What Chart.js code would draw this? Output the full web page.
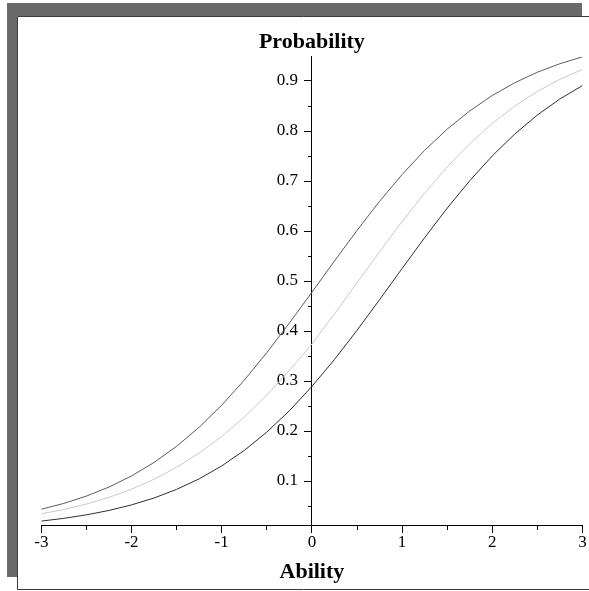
<!DOCTYPE html>
<html>
<head>
<meta charset="utf-8">
<script src="https://cdn.jsdelivr.net/npm/chart.js@4/dist/chart.umd.min.js"></script>
<style>
  html, body { margin: 0; padding: 0; background: #fff; }
  canvas { display: block; }
</style>
</head>
<body>
<canvas id="chart" width="589" height="591"></canvas>
<script>
// ability values (x), step 0.25
const abilities = [-3, -2.75, -2.5, -2.25, -2, -1.75, -1.5, -1.25, -1, -0.75, -0.5, -0.25,
    0, 0.25, 0.5, 0.75, 1, 1.25, 1.5, 1.75, 2, 2.25, 2.5, 2.75, 3];

// probability curves (top dark, middle light, bottom dark)
const upperCurve = [0.0435, 0.0552, 0.0698, 0.0879, 0.1101, 0.1371, 0.1694, 0.2075, 0.2516, 0.3016, 0.3567, 0.4158,
    0.4775, 0.5399, 0.6011, 0.6593, 0.7130, 0.7613, 0.8038, 0.8402, 0.8710, 0.8966, 0.9176, 0.9346, 0.9483];
const middleCurve = [0.0344, 0.0431, 0.0539, 0.0672, 0.0836, 0.1034, 0.1273, 0.1558, 0.1892, 0.2279, 0.2719, 0.3208,
    0.3740, 0.4342, 0.4963, 0.5585, 0.6189, 0.6759, 0.7281, 0.7747, 0.8153, 0.8500, 0.8792, 0.9034, 0.9231];
const lowerCurve = [0.0198, 0.0253, 0.0323, 0.0411, 0.0522, 0.0660, 0.0832, 0.1043, 0.1301, 0.1611, 0.1978, 0.2405,
    0.2891, 0.3430, 0.4013, 0.4626, 0.5250, 0.5866, 0.6457, 0.7006, 0.7503, 0.7941, 0.8320, 0.8641, 0.8909];

// tick labels
const xTicks = [-3, -2, -1, 0, 1, 2, 3];
const xMinorTicks = [-2.5, -1.5, -0.5, 0.5, 1.5, 2.5];
const yTicks = [0.1, 0.2, 0.3, 0.4, 0.5, 0.6, 0.7, 0.8, 0.9];
const yMinorTicks = [0.05, 0.15, 0.25, 0.35, 0.45, 0.55, 0.65, 0.75, 0.85];

const xTitle = 'Ability';
const yTitle = 'Probability';

const X_MIN = -3, X_MAX = 3;
const Y_MIN = 0.0106, Y_MAX = 0.9486;
// y tick labels sit a little left of the x = 0 axis line
const Y_LABEL_X = -0.155;

const serif = '"Liberation Serif", "DejaVu Serif", serif';

const toPoints = (ys) => abilities.map((a, i) => ({ x: a, y: ys[i] }));

// gray shadow box + white panel behind the plot
const framePlugin = {
    id: 'frame',
    beforeDraw(chart) {
        const ctx = chart.ctx;
        ctx.save();
        ctx.fillStyle = '#fff';
        ctx.fillRect(0, 0, chart.width, chart.height);
        ctx.fillStyle = '#6a6a6a';
        ctx.fillRect(7, 3, 575, 574);
        ctx.fillStyle = '#fff';
        ctx.fillRect(17, 16, chart.width - 17, chart.height - 17);
        ctx.strokeStyle = '#3a3a3a';
        ctx.lineWidth = 1;
        ctx.beginPath();
        ctx.moveTo(chart.width, 16.5);
        ctx.lineTo(17.5, 16.5);
        ctx.lineTo(17.5, 589.5);
        ctx.lineTo(chart.width, 589.5);
        ctx.stroke();
        ctx.restore();
    }
};

// axis titles: "Probability" over the y axis, "Ability" under the x axis
const titlesPlugin = {
    id: 'axisTitles',
    afterDraw(chart) {
        const ctx = chart.ctx;
        const area = chart.chartArea;
        ctx.save();
        ctx.fillStyle = '#000';
        ctx.font = 'bold 22px ' + serif;
        ctx.textAlign = 'center';
        ctx.textBaseline = 'alphabetic';
        ctx.fillText(yTitle, chart.scales.x.getPixelForValue(0), area.top - 9);
        ctx.fillText(xTitle, (area.left + area.right) / 2, area.bottom + 52);
        ctx.restore();
    }
};

const tickFont = { family: serif, size: 17 };

// one axis layer: tick marks (and optionally the axis line / labels)
function axisScale(axis, values, opts) {
    return {
        type: 'linear',
        axis,
        min: axis === 'x' ? X_MIN : Y_MIN,
        max: axis === 'x' ? X_MAX : Y_MAX,
        position: opts.position,
        afterBuildTicks: (s) => { s.ticks = values.map(v => ({ value: v })); },
        grid: {
            display: opts.tickLength > 0,
            drawOnChartArea: false,
            drawTicks: opts.tickLength > 0,
            tickLength: opts.tickLength,
            color: '#000',
            tickColor: '#000'
        },
        border: { display: !!opts.line, color: '#000', width: 1 },
        ticks: {
            display: !!opts.labels,
            color: '#000',
            font: tickFont,
            autoSkip: false,
            maxRotation: 0,
            padding: 0,
            callback: opts.format || ((v) => String(v))
        }
    };
}

new Chart(document.getElementById('chart'), {
    type: 'line',
    data: {
        datasets: [
            { data: toPoints(upperCurve), borderColor: '#5c5c5c' },
            { data: toPoints(middleCurve), borderColor: '#c9c9c9' },
            { data: toPoints(lowerCurve), borderColor: '#2e2e2e' }
        ]
    },
    options: {
        responsive: false,
        animation: false,
        layout: { padding: { left: 41.3, right: 6.5, top: 56.7, bottom: 65.3 } },
        elements: {
            line: { borderWidth: 1, tension: 0, fill: false },
            point: { radius: 0, hoverRadius: 0 }
        },
        plugins: {
            legend: { display: false },
            tooltip: { enabled: false },
            title: { display: false }
        },
        scales: {
            x: axisScale('x', xTicks, { position: { y: Y_MIN }, tickLength: 7, line: true, labels: true }),
            xMinor: axisScale('x', xMinorTicks, { position: { y: Y_MIN }, tickLength: 4 }),
            y: axisScale('y', yTicks, { position: { x: 0 }, tickLength: 7, line: true }),
            yMinor: axisScale('y', yMinorTicks, { position: { x: 0 }, tickLength: 4 }),
            yLabels: axisScale('y', yTicks, {
                position: { x: Y_LABEL_X }, tickLength: 0, labels: true,
                format: (v) => (Math.round(v * 10) / 10).toFixed(1)
            })
        }
    },
    plugins: [framePlugin, titlesPlugin]
});
</script>
</body>
</html>
